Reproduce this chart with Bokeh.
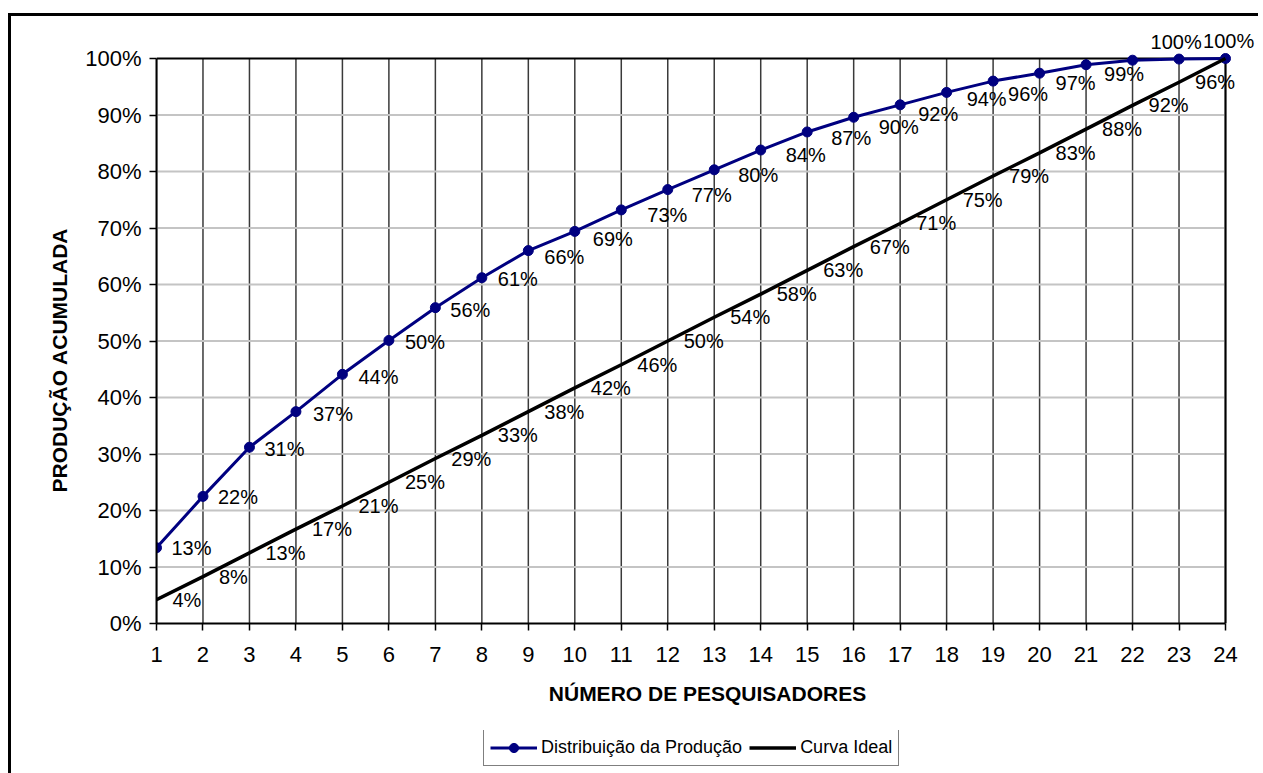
from bokeh.plotting import figure
from bokeh.layouts import column
from bokeh.models import (ColumnDataSource, LabelSet, Legend, LegendItem, FixedTicker,
                          Range1d, PrintfTickFormatter, Title)
from bokeh.core.properties import value
from bokeh.embed import file_html
from bokeh.resources import INLINE

# ---- data ----
pesquisadores = list(range(1, 25))
x_ticks = list(range(1, 25))
y_ticks = [0, 10, 20, 30, 40, 50, 60, 70, 80, 90, 100]

distribuicao = [13.4, 22.5, 31.2, 37.5, 44.1, 50.1, 55.9, 61.2, 66.0, 69.4, 73.2, 76.8,
                80.3, 83.8, 87.0, 89.6, 91.8, 94.0, 96.0, 97.4, 98.9, 99.7, 99.9, 100.0]
distribuicao_rotulos = ["13%", "22%", "31%", "37%", "44%", "50%", "56%", "61%", "66%", "69%",
                        "73%", "77%", "80%", "84%", "87%", "90%", "92%", "94%", "96%", "97%",
                        "99%", "100%", "100%"]

ideal = [4.2, 8.3, 12.5, 16.7, 20.8, 25.0, 29.2, 33.3, 37.5, 41.7, 45.8, 50.0,
         54.2, 58.3, 62.5, 66.7, 70.8, 75.0, 79.2, 83.3, 87.5, 91.7, 95.8, 100.0]
ideal_rotulos = ["4%", "8%", "13%", "17%", "21%", "25%", "29%", "33%", "38%", "42%", "46%",
                 "50%", "54%", "58%", "63%", "67%", "71%", "75%", "79%", "83%", "88%", "92%",
                 "96%"]

serie_nomes = ["Distribuição da Produção", "Curva Ideal"]

# ---- label placement style (pixels right / pixels down from each point) ----
dist_dx = [15, 15, 15, 17, 16, 16, 15, 16, 16, 18, 26, 24, 24, 25, 24, 25, 18, 20, 15, 16, 18, 18, 24]
dist_dy = [0, 1, 2, 2, 3, 2, 2, 1, 6, 8, 5, 5, 5, 5, 6, 10, 9, 7, 13, 10, 9, -18, -18]

FONT = "Liberation Sans"
NAVY = "#000080"

# plotting-area size and extra room (px) right/top so outside labels are not clipped
PLOT_W, PLOT_H = 1069, 565
EXTRA_R, EXTRA_T = 33, 30
LEFT, TOP, BOTTOM = 145, 12, 107
CANVAS_W = LEFT + PLOT_W + EXTRA_R
x0, x1 = x_ticks[0], x_ticks[-1]
y0, y1 = y_ticks[0], y_ticks[-1]

p = figure(frame_width=PLOT_W + EXTRA_R, frame_height=PLOT_H + EXTRA_T,
           output_backend="svg", toolbar_location=None,
           x_range=Range1d(x0, x1 + (x1 - x0) * EXTRA_R / PLOT_W),
           y_range=Range1d(y0, y1 + (y1 - y0) * EXTRA_T / PLOT_H),
           min_border_left=LEFT, min_border_top=TOP, min_border_right=0,
           min_border_bottom=BOTTOM)

p.outline_line_color = None
p.background_fill_color = "white"
p.border_fill_color = "white"
p.grid.visible = False

# grid lines, limited to the plotting area
p.segment(x0=x_ticks, y0=[y0] * len(x_ticks), x1=x_ticks, y1=[y1] * len(x_ticks),
          line_color="#3a3a3a", line_width=1.5)
inner_y = y_ticks[1:-1]
p.segment(x0=[x0] * len(inner_y), y0=inner_y, x1=[x1] * len(inner_y), y1=inner_y,
          line_color="#c4c4c4", line_width=2)
# top and right edges of the plotting area
p.segment(x0=[x0, x1], y0=[y1, y0], x1=[x1, x1], y1=[y1, y1], line_color="black", line_width=2)

# axes
for ax in (p.xaxis[0], p.yaxis[0]):
    ax.axis_line_color = "black"
    ax.axis_line_width = 2
    ax.major_tick_line_color = "black"
    ax.major_tick_line_width = 1.5
    ax.major_tick_out = 7
    ax.major_tick_in = 0
    ax.minor_tick_line_color = None
    ax.major_label_text_font = FONT
    ax.major_label_text_font_size = "22px"
    ax.major_label_text_color = "black"
    ax.axis_label_text_font = FONT
    ax.axis_label_text_font_size = "21px"
    ax.axis_label_text_font_style = "bold"
    ax.axis_label_text_color = "black"

p.xaxis.bounds = (x0, x1)
p.yaxis.bounds = (y0, y1)
p.xaxis.ticker = FixedTicker(ticks=x_ticks)
p.yaxis.ticker = FixedTicker(ticks=y_ticks)
p.yaxis.formatter = PrintfTickFormatter(format="%d%%")
p.xaxis.major_label_standoff = 16
p.yaxis.major_label_standoff = 8
p.xaxis.axis_label = "NÚMERO DE PESQUISADORES"
p.xaxis.axis_label_standoff = 17

ytitle = Title(text="PRODUÇÃO ACUMULADA", align="left", offset=131,
               text_font=FONT, text_font_size="21px", text_font_style="bold",
               text_color="black", standoff=24)
p.add_layout(ytitle, "left")

# series
src_d = ColumnDataSource(dict(x=pesquisadores, y=distribuicao))
src_i = ColumnDataSource(dict(x=pesquisadores, y=ideal))

p.line("x", "y", source=src_d, line_color=NAVY, line_width=3)
p.scatter("x", "y", source=src_d, size=10, fill_color=NAVY, line_color=NAVY)
p.line("x", "y", source=src_i, line_color="black", line_width=3.5)

# data labels
n_d = len(distribuicao_rotulos)
lab_d = ColumnDataSource(dict(x=pesquisadores[:n_d], y=distribuicao[:n_d], t=distribuicao_rotulos,
                              dx=dist_dx, dy=[-v for v in dist_dy]))
n_i = len(ideal_rotulos)
lab_i = ColumnDataSource(dict(x=pesquisadores[:n_i], y=ideal[:n_i], t=ideal_rotulos,
                              dx=[16] * n_i, dy=[0] * n_i))
for s in (lab_d, lab_i):
    p.add_layout(LabelSet(x="x", y="y", text="t", source=s, x_offset="dx", y_offset="dy",
                          text_font=value(FONT), text_font_size=value("20px"),
                          text_color="black", text_align="left", text_baseline="middle"))

# ---- legend strip (a second, axis-less figure under the chart) ----
# the same series are drawn there, but its ranges keep them out of view;
# they only supply the legend's glyphs
LEG_H = 45
q = figure(frame_width=CANVAS_W, frame_height=LEG_H, output_backend="svg",
           toolbar_location=None, x_range=Range1d(-2, -1), y_range=Range1d(-2, -1),
           min_border=0)
q.axis.visible = False
q.grid.visible = False
q.outline_line_color = None
q.background_fill_color = "white"
q.border_fill_color = "white"
q_dl = q.line("x", "y", source=src_d, line_color=NAVY, line_width=3)
q_ds = q.scatter("x", "y", source=src_d, size=10, fill_color=NAVY, line_color=NAVY)
q_il = q.line("x", "y", source=src_i, line_color="black", line_width=3.5)

legend = Legend(items=[LegendItem(label=serie_nomes[0], renderers=[q_dl, q_ds]),
                       LegendItem(label=serie_nomes[1], renderers=[q_il])],
                orientation="horizontal", location=(LEFT + 327, 9))
legend.label_text_font = FONT
legend.label_text_font_size = "18px"
legend.label_text_color = "black"
legend.border_line_color = "black"
legend.border_line_width = 1.5
legend.glyph_width = 47
legend.glyph_height = 23
legend.label_height = 23
legend.label_standoff = 4
legend.spacing = 7
legend.padding = 6
legend.margin = 0
legend.background_fill_color = "white"
q.add_layout(legend, "center")

layout = column(p, q, spacing=0)
layout.styles = {"border-left": "3px solid black", "border-top": "3px solid black",
                 "margin-top": "13px", "margin-left": "8px"}

open("out.html", "w").write(file_html(layout, INLINE))
